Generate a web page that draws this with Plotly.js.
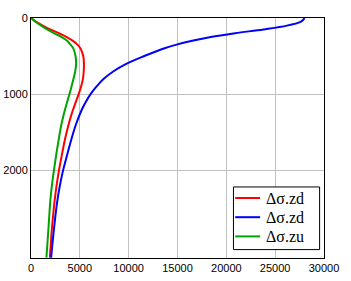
<!DOCTYPE html>
<html>
<head>
<meta charset="utf-8">
<script src="https://cdn.plot.ly/plotly-3.0.1.min.js"></script>
<style>html,body{margin:0;padding:0;background:#fff;}#chart{width:351px;height:281px;}</style>
</head>
<body>
<div id="chart"></div>
<script>
// depth z (vertical axis, reversed) and stress values (horizontal axis)
var zRed = [0, 50, 100, 150, 200, 250, 300, 350, 400, 500, 600, 700, 800, 900, 1000, 1100, 1200, 1300, 1400, 1600, 1800, 2000, 2200, 2400, 2600, 2800, 3000, 3150];
var sRed = [0, 550, 1200, 1950, 2850, 3650, 4300, 4750, 5070, 5350, 5420, 5400, 5320, 5130, 4880, 4600, 4320, 4070, 3850, 3470, 3160, 2870, 2620, 2420, 2260, 2120, 2010, 1930];

var zBlue = [0, 20, 50, 100, 150, 200, 250, 300, 350, 400, 500, 600, 700, 800, 900, 1000, 1100, 1200, 1400, 1600, 1800, 2000, 2200, 2400, 2600, 2800, 3000, 3150];
var sBlue = [28000, 27900, 27600, 26200, 23800, 20900, 18400, 16500, 14900, 13600, 11600, 9800, 8450, 7450, 6720, 6100, 5620, 5220, 4600, 4120, 3700, 3290, 2960, 2700, 2500, 2330, 2170, 2060];

var zGreen = [0, 50, 100, 150, 200, 250, 300, 350, 400, 500, 600, 700, 800, 900, 1000, 1100, 1200, 1300, 1400, 1600, 1800, 2000, 2200, 2400, 2600, 2800, 3000, 3150];
var sGreen = [0, 450, 1050, 1650, 2350, 3150, 3700, 4050, 4330, 4560, 4620, 4530, 4350, 4150, 3940, 3710, 3490, 3290, 3110, 2830, 2580, 2350, 2140, 1980, 1870, 1770, 1660, 1580];

var names = ["\u0394\u03c3.zd", "\u0394\u03c3.zd", "\u0394\u03c3.zu"];
var colors = ["#ff0000", "#0000ff", "#00a400"];
var xTicks = [0, 5000, 10000, 15000, 20000, 25000, 30000];
var yTicks = [0, 1000, 2000];

var traces = [
  {x: sRed, y: zRed, name: names[0], line: {color: colors[0]}},
  {x: sBlue, y: zBlue, name: names[1], line: {color: colors[1]}},
  {x: sGreen, y: zGreen, name: names[2], line: {color: colors[2]}}
].map(function(t){ t.type='scatter'; t.mode='lines'; t.line.width=2; t.line.shape='spline'; t.line.smoothing=1; return t; });

// custom legend (box + sample lines + labels) in paper coordinates
var legendRowsY = [0.25, 0.17, 0.09];
var shapes = [{type: 'rect', xref: 'paper', yref: 'paper', x0: 0.691, x1: 0.985, y0: 0.035, y1: 0.296,
  line: {color: '#000', width: 1}, fillcolor: '#fff', layer: 'above'}];
var annotations = [];
names.forEach(function(n, i){
  shapes.push({type: 'line', xref: 'paper', yref: 'paper', x0: 0.697, x1: 0.782, y0: legendRowsY[i], y1: legendRowsY[i],
    line: {color: colors[i], width: 2}, layer: 'above'});
  annotations.push({xref: 'paper', yref: 'paper', x: 0.796, y: legendRowsY[i], xanchor: 'left', yanchor: 'middle',
    text: n, showarrow: false, font: {family: 'Liberation Serif, serif', size: 16, color: '#000'}});
});

var layout = {
  width: 351, height: 281,
  margin: {l: 31, r: 27, t: 18, b: 23, pad: 0},
  paper_bgcolor: '#fff', plot_bgcolor: '#fff',
  font: {family: 'Arial, Liberation Sans, sans-serif', size: 11, color: '#000'},
  showlegend: false,
  shapes: shapes,
  annotations: annotations,
  xaxis: {
    range: [0, 30000], tickvals: xTicks, ticktext: xTicks.map(String),
    showgrid: true, gridcolor: '#c0c0c0', gridwidth: 1,
    zeroline: false, showline: true, linecolor: '#000', linewidth: 1, mirror: true,
    ticks: '', ticklen: 0, tickfont: {size: 11}
  },
  yaxis: {
    range: [3155, 0], tickvals: yTicks, ticktext: yTicks.map(String),
    showgrid: true, gridcolor: '#c0c0c0', gridwidth: 1,
    zeroline: false, showline: true, linecolor: '#000', linewidth: 1, mirror: true,
    ticks: '', ticklen: 0, tickfont: {size: 11}
  }
};

Plotly.newPlot('chart', traces, layout, {staticPlot: true, displayModeBar: false});
</script>
</body>
</html>
